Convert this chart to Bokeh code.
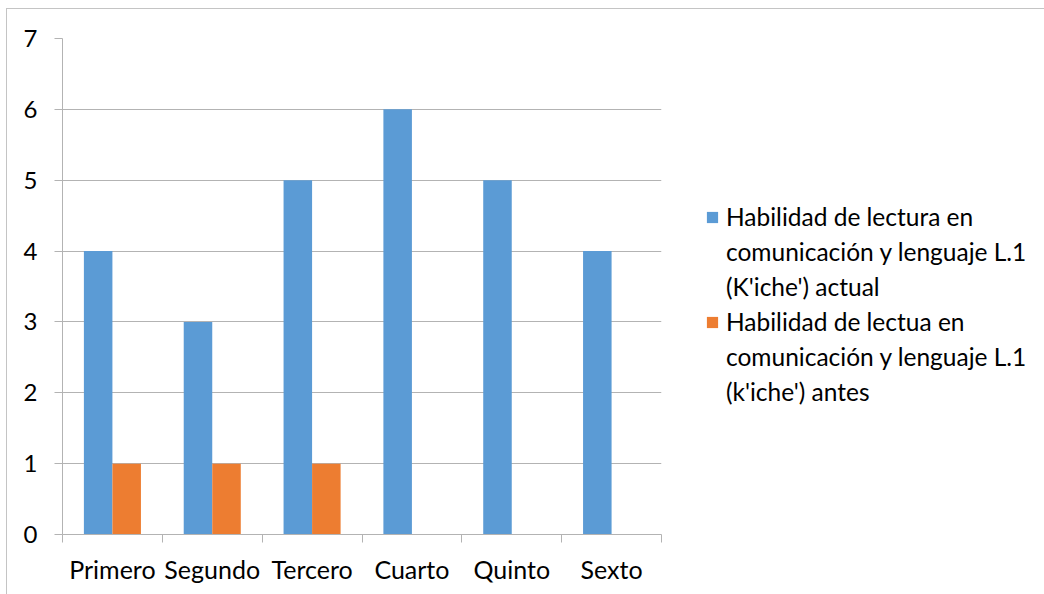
from bokeh.plotting import figure
from bokeh.models import FixedTicker, Legend, LegendItem, ColumnDataSource, Range1d
from bokeh.embed import file_html
from bokeh.resources import INLINE

categories = ["Primero", "Segundo", "Tercero", "Cuarto", "Quinto", "Sexto"]
actual = [4, 3, 5, 6, 5, 4]
antes = [1, 1, 1, 0, 0, 0]
series_names = [
    ["Habilidad de lectura en", "comunicación y lenguaje L.1", "(K'iche') actual"],
    ["Habilidad de lectua en", "comunicación y lenguaje L.1", "(k'iche') antes"],
]
y_ticks = [0, 1, 2, 3, 4, 5, 6, 7]

BLUE = "#5B9BD5"
ORANGE = "#ED7D31"
GRAY = "#b3b3b3"
FONT = "Lato"

n = len(categories)
bar_w = 1 / 3.5
centers = [i + 0.5 for i in range(n)]

src = ColumnDataSource(dict(
    x1=[c - bar_w / 2 for c in centers],
    x2=[c + bar_w / 2 for c in centers],
    actual=actual,
    antes=antes,
))

p = figure(frame_width=599, frame_height=496, output_backend="svg", toolbar_location=None,
           x_range=Range1d(0, n), y_range=Range1d(0, 7),
           min_border_left=55, min_border_right=0, min_border_top=29, min_border_bottom=60)
p.styles = {"margin-left": "6px", "margin-top": "8px",
            "border-left": "1px solid #c4c4c4", "border-top": "1px solid #c4c4c4"}

r1 = p.vbar(x="x1", top="actual", width=bar_w, source=src, fill_color=BLUE, line_color=None)
r2 = p.vbar(x="x2", top="antes", width=bar_w, source=src, fill_color=ORANGE, line_color=None)
# invisible renderer for continuation lines of the legend labels
blank = p.vbar(x=[], top=[], width=bar_w, fill_alpha=0, line_alpha=0)

p.outline_line_color = None
p.background_fill_color = "white"
p.border_fill_color = "white"

# x axis
p.xaxis.ticker = FixedTicker(ticks=centers, minor_ticks=list(range(n + 1)))
p.xaxis.major_label_overrides = {c: lab for c, lab in zip(centers, categories)}
p.xaxis.major_tick_out = 0
p.xaxis.major_tick_in = 0
p.xaxis.minor_tick_out = 8
p.xaxis.minor_tick_in = 0
p.xaxis.minor_tick_line_color = GRAY
p.xaxis.axis_line_color = GRAY
p.xaxis.major_label_standoff = 11
p.xaxis.major_label_text_font = FONT
p.xaxis.major_label_text_font_size = "25px"
p.xaxis.major_label_text_color = "black"
p.xgrid.grid_line_color = None

# y axis
p.yaxis.ticker = FixedTicker(ticks=y_ticks, minor_ticks=[])
p.yaxis.major_tick_out = 8
p.yaxis.major_tick_in = 0
p.yaxis.major_tick_line_color = GRAY
p.yaxis.axis_line_color = GRAY
p.yaxis.major_label_standoff = 17
p.yaxis.major_label_text_font = FONT
p.yaxis.major_label_text_font_size = "24px"
p.yaxis.major_label_text_color = "black"
p.ygrid.grid_line_color = GRAY
p.ygrid.ticker = FixedTicker(ticks=y_ticks)

items = []
for rend, lines in zip([r1, r2], series_names):
    items.append(LegendItem(label=lines[0], renderers=[rend]))
    for ln in lines[1:]:
        items.append(LegendItem(label=ln, renderers=[blank]))

legend = Legend(items=items, location=(44, 125))
legend.label_text_font = FONT
legend.label_text_font_size = "24.5px"
legend.label_text_color = "black"
legend.glyph_width = 14
legend.glyph_height = 14
legend.label_height = 35
legend.label_standoff = 7
legend.padding = 0
legend.spacing = 0
legend.margin = 0
legend.border_line_color = None
legend.background_fill_alpha = 0
p.add_layout(legend, "right")

open("out.html", "w").write(file_html(p, INLINE))
